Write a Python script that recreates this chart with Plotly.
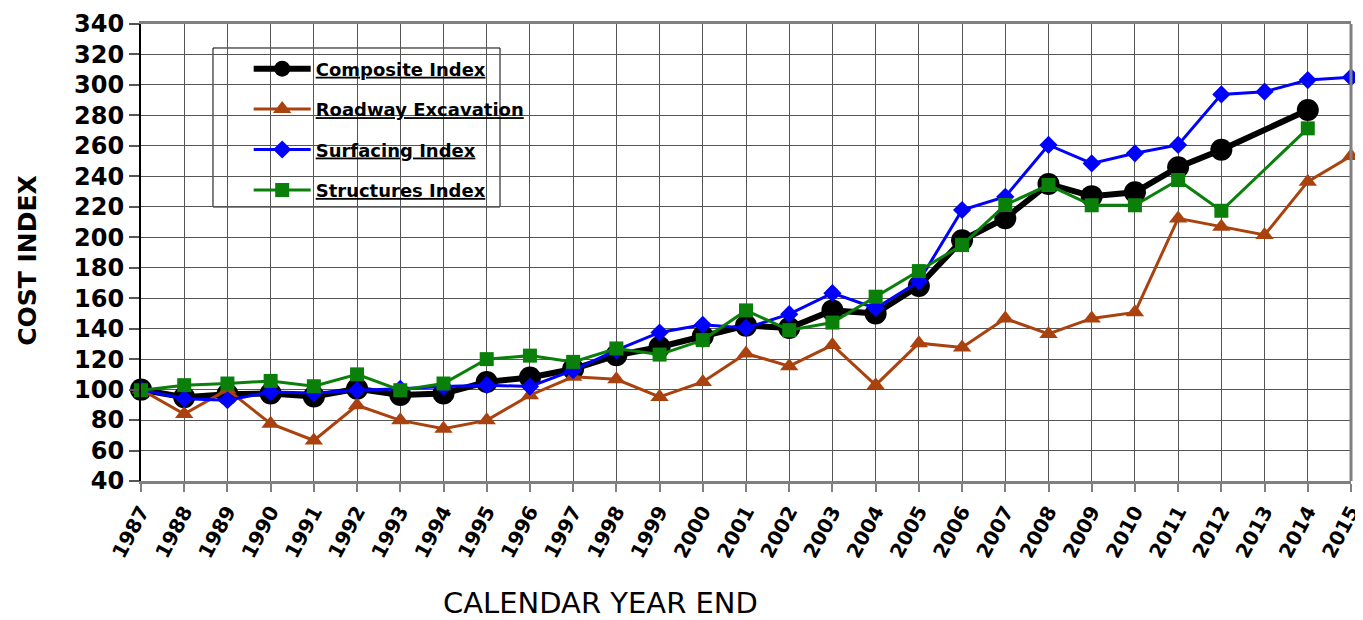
import plotly.graph_objects as go

years = list(range(1987, 2016))
composite = [100, 95, 97, 97.5, 95.5, 100.5, 96.5, 97.5, 105, 108,
             113.5, 122.5, 128, 135, 142, 140.5, 152, 150, 168, 198,
             212.5, 235, 227, 229.5, 246, 257.5, None, 283.5, None]
roadway = [100, 84, 100, 77.6, 66.6, 89.7, 79.8, 74.3, 79.8, 96.3,
           108.4, 106.8, 95.2, 105, 123.7, 115.4, 129.2, 102.9, 130.5, 127.7,
           146.7, 136.5, 146.7, 150.7, 212.4, 206.9, 201.5, 236.5, 253.3]
surfacing = [100, 94, 93, 98.5, 97.8, 99.6, 100.5, 102, 102.9, 102,
             112.7, 125.9, 137.5, 142.5, 140.5, 149.5, 163.3, 153.4, 171, 217.9,
             226.6, 260.6, 248.5, 255.1, 260.6, 293.8, 295.6, 303.2, 305]
structures = [99.6, 102.9, 104, 105.7, 102.2, 110, 99.6, 104, 120, 122.3,
              118.2, 127, 123, 132.5, 152, 139, 144, 161, 177.8, 194.9,
              221.2, 234.3, 221, 221, 237.6, 217.4, None, 271.5, None]

names = ["Composite Index", "Roadway Excavation", "Surfacing Index", "Structures Index"]
series = [composite, roadway, surfacing, structures]
colors = ["#000000", "#A9420F", "#0000FF", "#0A7F0A"]
symbols = ["circle", "triangle-up", "diamond", "square"]
sizes = [22, 16, 14, 14]
widths = [6, 3, 3, 3]

fig = go.Figure()
for i in range(4):
    fig.add_trace(go.Scatter(
        x=years, y=series[i], name="<u>" + names[i] + "</u>",
        mode="lines+markers", connectgaps=True, cliponaxis=False,
        line=dict(color=colors[i], width=widths[i]),
        marker=dict(symbol=symbols[i], size=sizes[i], color=colors[i], line=dict(width=0)),
        legendgroup="g%d" % i,
    ))

# page body adds an 8px offset; figure fills the rest of the window
fig.update_layout(
    width=1355, height=612,
    margin=dict(l=133, r=12, t=16, b=139),
    paper_bgcolor="white", plot_bgcolor="white",
    showlegend=True,
    legend=dict(x=0.089, y=0.942, xanchor="left", yanchor="top",
                bgcolor="rgba(0,0,0,0)", borderwidth=0,
                font=dict(family="DejaVu Sans", size=18, color="black", weight="bold"),
                itemwidth=57, tracegroupgap=14, traceorder="grouped"),
    xaxis=dict(range=[1987, 2015], tickmode="linear", tick0=1987, dtick=1,
               tickangle=-62, automargin=False, ticklabeloverflow="allow",
               tickfont=dict(family="DejaVu Sans", size=20, color="black", weight="bold"),
               showgrid=True, gridcolor="#555555", gridwidth=1.3,
               showline=True, linecolor="#808080", linewidth=3, mirror=True,
               ticks="outside", ticklen=8, tickcolor="#808080", tickwidth=1.5,
               zeroline=False),
    yaxis=dict(range=[40, 340], tickmode="linear", tick0=40, dtick=20,
               automargin=False, ticklabeloverflow="allow",
               tickfont=dict(family="DejaVu Sans", size=24, color="black", weight="bold"),
               showgrid=True, gridcolor="#555555", gridwidth=1.3,
               showline=True, linecolor="black", linewidth=2,
               ticks="outside", ticklen=10, tickcolor="#555555", tickwidth=1.5,
               zeroline=False),
    annotations=[
        dict(text="CALENDAR YEAR END", xref="paper", yref="paper", x=0.38, y=-0.267,
             xanchor="center", yanchor="middle", showarrow=False,
             font=dict(family="DejaVu Sans", size=29, color="black")),
        dict(text="COST INDEX", xref="paper", yref="paper", x=-0.0934, y=0.484,
             xanchor="center", yanchor="middle", showarrow=False, textangle=-90,
             font=dict(family="DejaVu Sans", size=25, color="black", weight="bold")),
    ],
    shapes=[
        dict(type="rect", xref="paper", yref="paper", x0=0.0595, x1=0.2967, y0=0.5996, y1=0.9475,
             line=dict(color="black", width=1), fillcolor="white", layer="below"),
        dict(type="line", xref="paper", yref="paper", x0=1, x1=1, y0=0, y1=1,
             line=dict(color="#808080", width=3), layer="above"),
    ],
)

fig.write_html("out.html")
